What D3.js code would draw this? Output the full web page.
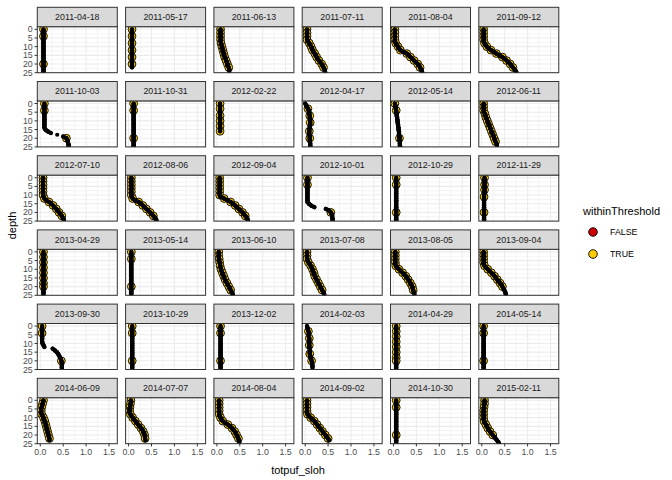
<!DOCTYPE html>
<html><head><meta charset="utf-8">
<script src="https://cdn.jsdelivr.net/npm/d3@7"></script>
<style>body{margin:0;background:#fff}svg{display:block}text{font-family:"Liberation Sans",Arial,Helvetica,sans-serif}</style>
</head><body><svg id="chart" width="672" height="480"></svg>
<script>
// ---- data ----
const dates = ["2011-04-18","2011-05-17","2011-06-13","2011-07-11","2011-08-04","2011-09-12",
  "2011-10-03","2011-10-31","2012-02-22","2012-04-17","2012-05-14","2012-06-11",
  "2012-07-10","2012-08-06","2012-09-04","2012-10-01","2012-10-29","2012-11-29",
  "2013-04-29","2013-05-14","2013-06-10","2013-07-08","2013-08-05","2013-09-04",
  "2013-09-30","2013-10-29","2013-12-02","2014-02-03","2014-04-29","2014-05-14",
  "2014-06-09","2014-07-07","2014-08-04","2014-09-02","2014-10-30","2015-02-11"];
const depthTicks = [0,5,10,15,20,25];
const valueTicks = [0,0.5,1.0,1.5];
const legendLevels = ["FALSE","TRUE"];
// totpuf_sloh profile, one value per metre of depth starting at 0 m
const profiles = [
 [0.07,0.07,0.07,0.07,0.07,0.07,0.07,0.07,0.07,0.07,0.07,0.07,0.07,0.07,0.07,0.07,0.07,0.07,0.07,0.07,0.07,0.07,0.07,0.07,0.07,0.07],
 [0.075,0.075,0.075,0.075,0.075,0.075,0.075,0.075,0.075,0.075,0.075,0.075,0.075,0.075,0.075,0.075,0.075,0.075,0.075,0.075,0.075,0.075,0.075],
 [0.08,0.08,0.08,0.08,0.08,0.08,0.08,0.08,0.09,0.10,0.11,0.12,0.13,0.14,0.15,0.16,0.17,0.19,0.20,0.22,0.23,0.24,0.26,0.27,0.27],
 [0.04,0.04,0.04,0.04,0.04,0.04,0.04,0.06,0.09,0.11,0.13,0.15,0.16,0.18,0.21,0.23,0.25,0.27,0.30,0.33,0.36,0.38,0.40,0.42,0.43,0.44],
 [0.03,0.03,0.03,0.03,0.03,0.03,0.03,0.03,0.05,0.07,0.10,0.12,0.15,0.22,0.29,0.33,0.37,0.41,0.45,0.49,0.53,0.56,0.58,0.60,0.62,0.63],
 [0.04,0.04,0.04,0.04,0.04,0.04,0.04,0.04,0.06,0.08,0.11,0.15,0.20,0.26,0.32,0.38,0.45,0.50,0.54,0.58,0.62,0.65,0.68,0.71,0.74,0.76],
 [0.09,0.09,0.09,0.09,0.09,0.09,0.09,0.09,0.09,0.09,0.09,0.09,0.09,0.09,0.09,0.11,0.16,0.23,0.37,0.50,0.57,0.59,0.60,0.61,0.62,0.62],
 [0.11,0.11,0.11,0.11,0.11,0.11,0.11,0.11,0.11,0.11,0.11,0.11,0.11,0.11,0.11,0.11,0.11,0.11,0.11,0.11,0.11,0.11,0.11,0.11,0.11,0.11],
 [0.07,0.07,0.07,0.07,0.07,0.07,0.07,0.07,0.07,0.07,0.07,0.07,0.07,0.07,0.07,0.07,0.07],
 [0.00,0.02,0.04,0.06,0.08,0.09,0.09,0.10,0.10,0.11,0.11,0.11,0.11,0.10,0.10,0.09,0.09,0.09,0.09,0.10,0.10,0.10,0.10,0.11,0.11,0.11],
 [0.03,0.04,0.05,0.05,0.06,0.06,0.07,0.07,0.08,0.08,0.09,0.09,0.10,0.10,0.11,0.11,0.12,0.12,0.12,0.13,0.13,0.13,0.14,0.14,0.14,0.15],
 [0.04,0.04,0.04,0.04,0.04,0.05,0.07,0.08,0.09,0.11,0.12,0.14,0.15,0.17,0.18,0.20,0.21,0.23,0.24,0.26,0.27,0.29,0.30,0.32,0.33],
 [0.06,0.06,0.06,0.06,0.06,0.06,0.06,0.06,0.06,0.06,0.06,0.07,0.09,0.13,0.19,0.24,0.28,0.31,0.35,0.38,0.41,0.44,0.47,0.49,0.51,0.52],
 [0.06,0.06,0.06,0.06,0.06,0.06,0.06,0.06,0.06,0.06,0.06,0.07,0.09,0.14,0.22,0.27,0.31,0.35,0.39,0.43,0.47,0.51,0.54,0.57,0.60,0.61],
 [0.06,0.06,0.06,0.06,0.06,0.06,0.06,0.06,0.06,0.06,0.06,0.08,0.16,0.23,0.30,0.35,0.40,0.44,0.48,0.52,0.56,0.59,0.62,0.65,0.67,0.68],
 [0.05,0.05,0.05,0.05,0.05,0.05,0.05,0.05,0.05,0.05,0.05,0.05,0.05,0.05,0.05,0.08,0.13,0.20,0.45,0.52,0.56,0.58,0.59,0.59,0.60,0.60],
 [0.06,0.06,0.06,0.06,0.06,0.06,0.06,0.06,0.06,0.06,0.06,0.06,0.06,0.06,0.06,0.06,0.06,0.06,0.06,0.06,0.06,0.06,0.06,0.06,0.06,0.06],
 [0.06,0.06,0.06,0.06,0.06,0.06,0.06,0.06,0.06,0.06,0.05,0.05,0.05,0.05,0.05,0.05,0.05,0.05,0.05,0.05,0.05,0.05,0.05,0.05,0.05,0.05],
 [0.07,0.07,0.07,0.07,0.07,0.07,0.07,0.07,0.07,0.07,0.07,0.07,0.07,0.07,0.07,0.07,0.07,0.07,0.07,0.07,0.07,0.07,0.07,0.07,0.07,0.07],
 [0.06,0.06,0.06,0.06,0.06,0.06,0.06,0.06,0.06,0.06,0.06,0.06,0.06,0.06,0.06,0.06,0.06,0.06,0.06,0.06,0.06,0.06,0.06,0.06,0.06,0.06],
 [0.04,0.04,0.04,0.04,0.05,0.05,0.06,0.07,0.07,0.08,0.09,0.10,0.12,0.13,0.15,0.16,0.18,0.20,0.22,0.24,0.26,0.28,0.30,0.32,0.34,0.35],
 [0.04,0.04,0.04,0.04,0.04,0.05,0.07,0.10,0.12,0.14,0.16,0.17,0.19,0.20,0.21,0.23,0.25,0.27,0.29,0.31,0.33,0.35,0.37,0.39,0.41,0.42],
 [0.04,0.04,0.04,0.04,0.04,0.04,0.04,0.04,0.05,0.08,0.12,0.16,0.20,0.24,0.27,0.30,0.32,0.35,0.37,0.39,0.41,0.42,0.43,0.44,0.45,0.46],
 [0.04,0.04,0.04,0.04,0.04,0.04,0.04,0.04,0.06,0.09,0.13,0.17,0.21,0.25,0.28,0.31,0.34,0.37,0.40,0.43,0.45,0.47,0.49,0.51,0.52,0.53],
 [0.04,0.04,0.04,0.04,0.04,0.04,0.04,0.04,0.04,0.04,0.05,0.07,0.09,0.27,0.32,0.36,0.39,0.41,0.43,0.45,0.46,0.47,0.47,0.47,0.47,0.47],
 [0.08,0.08,0.08,0.08,0.08,0.08,0.08,0.08,0.08,0.08,0.08,0.08,0.08,0.08,0.08,0.08,0.08,0.08,0.08,0.08,0.08,0.08,0.08,0.08,0.08,0.08],
 [0.08,0.08,0.08,0.08,0.08,0.08,0.08,0.08,0.08,0.08,0.08,0.08,0.08,0.08,0.08,0.08,0.08,0.08,0.08,0.08,0.08,0.08,0.08,0.08,0.08,0.08],
 [0.04,0.05,0.06,0.07,0.08,0.08,0.08,0.09,0.09,0.09,0.09,0.09,0.09,0.10,0.10,0.10,0.10,0.11,0.12,0.13,0.14,0.15,0.15,0.16,0.16],
 [0.06,0.06,0.06,0.06,0.06,0.06,0.06,0.06,0.06,0.06,0.06,0.06,0.06,0.06,0.06,0.06,0.06,0.06,0.06,0.06,0.06,0.06,0.06,0.06,0.06,0.06],
 [0.04,0.04,0.04,0.04,0.04,0.04,0.04,0.04,0.04,0.04,0.04,0.04,0.04,0.04,0.04,0.04,0.04,0.04,0.04,0.04,0.04,0.04,0.04,0.04,0.04,0.04],
 [0.07,0.06,0.05,0.04,0.03,0.02,0.02,0.02,0.03,0.05,0.07,0.08,0.10,0.11,0.12,0.13,0.14,0.15,0.16,0.17,0.18,0.19,0.20,0.20],
 [0.05,0.05,0.04,0.04,0.03,0.02,0.02,0.02,0.04,0.06,0.09,0.12,0.15,0.18,0.21,0.24,0.27,0.30,0.32,0.34,0.35,0.36,0.36,0.37],
 [0.05,0.05,0.05,0.05,0.05,0.05,0.05,0.05,0.05,0.06,0.08,0.10,0.13,0.18,0.24,0.29,0.33,0.36,0.39,0.41,0.43,0.45,0.47,0.48,0.49],
 [0.04,0.04,0.04,0.04,0.04,0.04,0.04,0.04,0.05,0.08,0.12,0.16,0.20,0.23,0.26,0.29,0.32,0.35,0.38,0.41,0.44,0.47,0.50,0.52],
 [0.06,0.06,0.06,0.06,0.06,0.06,0.06,0.06,0.06,0.06,0.06,0.06,0.06,0.06,0.06,0.06,0.06,0.06,0.06,0.06,0.06,0.06,0.06,0.06,0.06,0.06],
 [0.06,0.06,0.06,0.05,0.05,0.04,0.04,0.04,0.04,0.04,0.04,0.04,0.05,0.07,0.09,0.11,0.13,0.15,0.18,0.21,0.24,0.27,0.30,0.33,0.36,0.38]
];
// depths (m) of the sampled points, all withinThreshold = TRUE
const sampleDepths = [
 [0,4,20],[0,4,8,12,16,20],[0,2,4,6,8,10,12,14,16,18,20,22],[0,2,4,6,8,10,12,14,16,18,20,22],[0,2,4,6,8,10,12,14,16,18,20,22],[0,2,4,6,8,10,12,14,16,18,20,22],
 [0,4,20],[0,4,20],[0,3,7,10,13,16],[3,7,11,16,20],[0,4,20],[0,2,4,6,8,10,12,14,16,18,20,22],
 [0,2,4,6,8,10,12,14,16,18,20,22],[0,2,4,6,8,10,12,14,16,18,20,22],[0,2,4,6,8,10,12,14,16,18,20,22],[0,4,20],[0,4,20],[0,4,7,11,20],
 [0,3,6,9,12,15,18,20],[0,4,20],[0,2,4,6,8,10,12,14,16,18,20,22],[0,2,4,6,8,10,12,14,16,18,20,22],[0,2,4,6,8,10,12,14,16,18,20,22],[0,2,4,6,8,10,12,14,16,18,20],
 [0,4,20],[0,4,20],[0,4,20],[3,7,11,16,20],[0,3,6,9,12,15,18,20],[0,4,20],
 [0,2,4,6,8,10,12,14,16,18,20,22],[0,2,4,6,8,10,12,14,16,18,20,22],[0,2,4,6,8,10,12,14,16,18,20,22],[0,2,4,6,8,10,12,14,16,18,20,22],[0,4,20],[0,2,4,6,8,10,12,14,16,18,20]
];
const sampleFlags = sampleDepths.map(a => a.map(() => "TRUE"));

// ---- layout ----
const nCol = 6;
const colLeft = 37.3, colPitch = 88.3, panelW = 80;
const rowTop = 26.7, rowPitch = 74.2, stripH = 19.4, panelH = 46;
const fillColor = d3.scaleOrdinal().domain(legendLevels).range(["#CD0000","#FFCC00"]);

const x = d3.scaleLinear().domain([-0.065, 1.681]).range([0, panelW]);
const y = d3.scaleLinear().domain([-1.5, 25]).range([0, panelH]);
const xMinor = [0.25, 0.75, 1.25];
const yMinor = [2.5, 7.5, 12.5, 17.5, 22.5];
const fmtX = d3.format(".1f");

const svg = d3.select("#chart");
svg.append("rect").attr("width", 672).attr("height", 480).attr("fill", "#fff");
const nRow = Math.ceil(dates.length / nCol);

dates.forEach((date, i) => {
  const col = i % nCol, row = Math.floor(i / nCol);
  const g = svg.append("g").attr("transform", `translate(${colLeft + col * colPitch},${rowTop + row * rowPitch})`);
  const cid = "clip" + i;
  g.append("clipPath").attr("id", cid).append("rect").attr("width", panelW).attr("height", panelH);

  g.append("rect").attr("width", panelW).attr("height", panelH).attr("fill", "#fff");
  const grid = g.append("g");
  grid.selectAll(".xm").data(xMinor).join("line")
    .attr("x1", d => x(d)).attr("x2", d => x(d)).attr("y1", 0).attr("y2", panelH)
    .attr("stroke", "#EBEBEB").attr("stroke-width", 0.55);
  grid.selectAll(".ym").data(yMinor).join("line")
    .attr("y1", d => y(d)).attr("y2", d => y(d)).attr("x1", 0).attr("x2", panelW)
    .attr("stroke", "#EBEBEB").attr("stroke-width", 0.55);
  grid.selectAll(".xM").data(valueTicks).join("line")
    .attr("x1", d => x(d)).attr("x2", d => x(d)).attr("y1", 0).attr("y2", panelH)
    .attr("stroke", "#EBEBEB").attr("stroke-width", 1.1);
  grid.selectAll(".yM").data(depthTicks).join("line")
    .attr("y1", d => y(d)).attr("y2", d => y(d)).attr("x1", 0).attr("x2", panelW)
    .attr("stroke", "#EBEBEB").attr("stroke-width", 1.1);

  const marks = g.append("g").attr("clip-path", `url(#${cid})`);
  const prof = profiles[i];
  // sampled points
  marks.selectAll("circle.s").data(sampleDepths[i].map((d, k) => ({depth: d, v: prof[d], f: sampleFlags[i][k]})))
    .join("circle").attr("class", "s")
    .attr("cx", d => x(d.v)).attr("cy", d => y(d.depth)).attr("r", 3.9)
    .attr("fill", d => fillColor(d.f)).attr("stroke", "#000").attr("stroke-width", 0.9);
  // profile: dots, joined where neighbours are close
  const pts = prof.map((v, d) => [x(v), y(d)]);
  const segs = [];
  for (let k = 1; k < pts.length; k++) {
    const dx = pts[k][0] - pts[k-1][0], dy = pts[k][1] - pts[k-1][1];
    if (Math.hypot(dx, dy) < 5.5) segs.push([pts[k-1], pts[k]]);
  }
  marks.selectAll("line.p").data(segs).join("line").attr("class", "p")
    .attr("x1", d => d[0][0]).attr("y1", d => d[0][1]).attr("x2", d => d[1][0]).attr("y2", d => d[1][1])
    .attr("stroke", "#000").attr("stroke-width", 4.2).attr("stroke-linecap", "round");
  marks.selectAll("circle.p").data(pts).join("circle").attr("class", "p")
    .attr("cx", d => d[0]).attr("cy", d => d[1]).attr("r", 2.1).attr("fill", "#000");

  g.append("rect").attr("width", panelW).attr("height", panelH).attr("fill", "none")
    .attr("stroke", "#333").attr("stroke-width", 1);
  // strip
  g.append("rect").attr("y", -stripH).attr("width", panelW).attr("height", stripH)
    .attr("fill", "#D9D9D9").attr("stroke", "#333").attr("stroke-width", 1);
  g.append("text").attr("x", panelW / 2).attr("y", -stripH / 2).attr("dy", "0.35em")
    .attr("text-anchor", "middle").attr("font-size", 8.8).attr("fill", "#1A1A1A").text(date);

  if (col === 0) {
    const ax = g.append("g");
    ax.selectAll("line").data(depthTicks).join("line")
      .attr("x1", -2.75).attr("x2", 0).attr("y1", d => y(d)).attr("y2", d => y(d))
      .attr("stroke", "#333").attr("stroke-width", 1);
    ax.selectAll("text").data(depthTicks).join("text")
      .attr("x", -4.6).attr("y", d => y(d)).attr("dy", "0.35em").attr("text-anchor", "end")
      .attr("font-size", 8.8).attr("fill", "#4D4D4D").text(d => d);
  }
  if (row === nRow - 1) {
    const ax = g.append("g");
    ax.selectAll("line").data(valueTicks).join("line")
      .attr("y1", panelH).attr("y2", panelH + 2.75).attr("x1", d => x(d)).attr("x2", d => x(d))
      .attr("stroke", "#333").attr("stroke-width", 1);
    ax.selectAll("text").data(valueTicks).join("text")
      .attr("x", d => x(d)).attr("y", panelH + 4.9).attr("dy", "0.75em").attr("text-anchor", "middle")
      .attr("font-size", 8.8).attr("fill", "#4D4D4D").text(d => fmtX(d));
  }
});

// axis titles
const plotLeft = colLeft, plotRight = colLeft + (nCol - 1) * colPitch + panelW;
const plotTop = rowTop - stripH, plotBottom = rowTop + (nRow - 1) * rowPitch + panelH;
svg.append("text").attr("x", (plotLeft + plotRight) / 2).attr("y", 470).attr("dy", "0.35em")
  .attr("text-anchor", "middle").attr("font-size", 11).attr("fill", "#000").text("totpuf_sloh");
svg.append("text").attr("transform", `translate(12,${(plotTop + plotBottom) / 2}) rotate(-90)`)
  .attr("dy", "0.35em").attr("text-anchor", "middle").attr("font-size", 11).attr("fill", "#000").text("depth");

// legend
const lg = svg.append("g");
lg.append("text").attr("x", 583).attr("y", 211).attr("dy", "0.35em").attr("font-size", 11).attr("fill", "#000").text("withinThreshold");
legendLevels.forEach((lv, k) => {
  const cy = 232 + k * 22;
  lg.append("circle").attr("cx", 593).attr("cy", cy).attr("r", 4.3)
    .attr("fill", fillColor(lv)).attr("stroke", "#000").attr("stroke-width", 0.9);
  lg.append("text").attr("x", 610).attr("y", cy).attr("dy", "0.35em").attr("font-size", 8.8).attr("fill", "#000").text(lv);
});
</script></body></html>
